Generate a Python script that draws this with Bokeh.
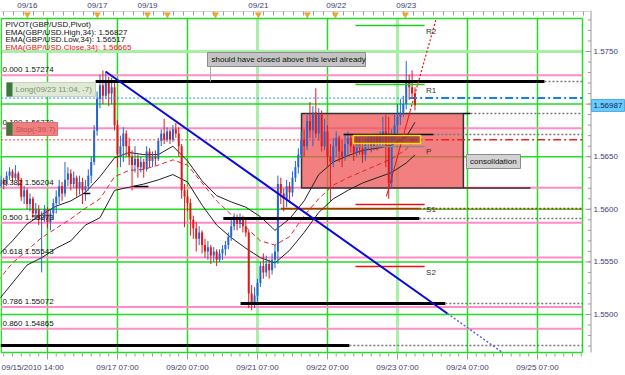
from bokeh.plotting import figure
from bokeh.models import Range1d
from bokeh.embed import file_html
from bokeh.resources import INLINE
from bokeh.core.properties import value

FONT = "Liberation Sans"

# ---------------- data (hourly GBP/USD bars, index 0 = 09/15 14:00) ----------------
first_open = 1.5625
bar_close = [
    1.5622, 1.5628, 1.5624, 1.5632, 1.5636, 1.5630, 1.5634, 1.5628, 1.5612, 1.5618,
    1.5605, 1.5610, 1.5596, 1.5600, 1.5590, 1.5592, 1.5600, 1.5588, 1.5596, 1.5606,
    1.5612, 1.5622, 1.5615, 1.5628, 1.5634, 1.5624, 1.5630, 1.5620, 1.5626, 1.5618,
    1.5622, 1.5632, 1.5645, 1.5675, 1.5705, 1.5718, 1.5708, 1.5722, 1.5710, 1.5716,
    1.5680, 1.5652, 1.5660, 1.5672, 1.5660, 1.5650, 1.5642, 1.5648, 1.5640, 1.5645,
    1.5638, 1.5655, 1.5646, 1.5650, 1.5648, 1.5665, 1.5672, 1.5666, 1.5674, 1.5666,
    1.5676, 1.5672, 1.5660, 1.5618, 1.5612, 1.5606, 1.5590, 1.5582, 1.5572, 1.5578,
    1.5566, 1.5560, 1.5564, 1.5556, 1.5560, 1.5552, 1.5558, 1.5562, 1.5566, 1.5574,
    1.5584, 1.5590, 1.5586, 1.5592, 1.5584, 1.5578, 1.5520, 1.5512, 1.5518, 1.5530,
    1.5546, 1.5540, 1.5548, 1.5542, 1.5552, 1.5560, 1.5624, 1.5615, 1.5610, 1.5622,
    1.5616, 1.5630, 1.5640, 1.5652, 1.5666, 1.5660, 1.5684, 1.5675, 1.5692, 1.5672,
    1.5690, 1.5660, 1.5674, 1.5650, 1.5645, 1.5660, 1.5668, 1.5655, 1.5650, 1.5662,
    1.5668, 1.5660, 1.5654, 1.5664, 1.5658, 1.5652, 1.5662, 1.5666, 1.5660, 1.5668,
    1.5662, 1.5670, 1.5674, 1.5660, 1.5625, 1.5670, 1.5680, 1.5688, 1.5692, 1.5700,
    1.5722, 1.5716, 1.5710, 1.5699]
bar_high = [
    1.5630, 1.5632, 1.5630, 1.5636, 1.5640, 1.5638, 1.5642, 1.5636, 1.5630, 1.5622,
    1.5620, 1.5615, 1.5612, 1.5606, 1.5604, 1.5598, 1.5604, 1.5602, 1.5600, 1.5610,
    1.5618, 1.5628, 1.5626, 1.5645, 1.5640, 1.5638, 1.5636, 1.5632, 1.5632, 1.5630,
    1.5628, 1.5638, 1.5650, 1.5680, 1.5712, 1.5728, 1.5732, 1.5730, 1.5726, 1.5725,
    1.5720, 1.5685, 1.5670, 1.5678, 1.5675, 1.5668, 1.5656, 1.5660, 1.5652, 1.5650,
    1.5648, 1.5660, 1.5658, 1.5655, 1.5656, 1.5668, 1.5676, 1.5686, 1.5678, 1.5676,
    1.5680, 1.5682, 1.5678, 1.5662, 1.5624, 1.5618, 1.5610, 1.5594, 1.5588, 1.5584,
    1.5580, 1.5572, 1.5570, 1.5566, 1.5564, 1.5562, 1.5562, 1.5566, 1.5570, 1.5578,
    1.5590, 1.5596, 1.5595, 1.5596, 1.5594, 1.5590, 1.5580, 1.5528, 1.5526, 1.5534,
    1.5550, 1.5558, 1.5556, 1.5552, 1.5558, 1.5566, 1.5632, 1.5630, 1.5620, 1.5628,
    1.5626, 1.5636, 1.5646, 1.5658, 1.5674, 1.5676, 1.5690, 1.5702, 1.5698, 1.5715,
    1.5696, 1.5694, 1.5686, 1.5680, 1.5662, 1.5668, 1.5674, 1.5670, 1.5666, 1.5672,
    1.5674, 1.5672, 1.5668, 1.5670, 1.5668, 1.5664, 1.5668, 1.5670, 1.5670, 1.5672,
    1.5672, 1.5674, 1.5688, 1.5690, 1.5688, 1.5676, 1.5690, 1.5700, 1.5705, 1.5708,
    1.5741, 1.5728, 1.5732, 1.5716]
bar_low = [
    1.5618, 1.5620, 1.5619, 1.5622, 1.5628, 1.5626, 1.5628, 1.5622, 1.5608, 1.5605,
    1.5600, 1.5598, 1.5592, 1.5590, 1.5585, 1.5540, 1.5588, 1.5582, 1.5580, 1.5590,
    1.5596, 1.5605, 1.5608, 1.5612, 1.5622, 1.5618, 1.5620, 1.5612, 1.5614, 1.5605,
    1.5608, 1.5618, 1.5625, 1.5642, 1.5670, 1.5696, 1.5700, 1.5705, 1.5698, 1.5700,
    1.5675, 1.5640, 1.5640, 1.5645, 1.5650, 1.5642, 1.5618, 1.5635, 1.5630, 1.5635,
    1.5630, 1.5636, 1.5640, 1.5640, 1.5642, 1.5646, 1.5660, 1.5662, 1.5664, 1.5662,
    1.5664, 1.5668, 1.5650, 1.5610, 1.5583, 1.5598, 1.5575, 1.5572, 1.5560, 1.5566,
    1.5558, 1.5554, 1.5552, 1.5548, 1.5550, 1.5546, 1.5550, 1.5552, 1.5556, 1.5562,
    1.5570, 1.5580, 1.5580, 1.5582, 1.5578, 1.5574, 1.5506, 1.5504, 1.5506, 1.5512,
    1.5526, 1.5534, 1.5536, 1.5534, 1.5538, 1.5544, 1.5548, 1.5605, 1.5598, 1.5602,
    1.5606, 1.5612, 1.5626, 1.5634, 1.5648, 1.5650, 1.5656, 1.5668, 1.5660, 1.5668,
    1.5665, 1.5655, 1.5656, 1.5640, 1.5608, 1.5640, 1.5650, 1.5645, 1.5640, 1.5646,
    1.5652, 1.5654, 1.5646, 1.5650, 1.5652, 1.5644, 1.5646, 1.5656, 1.5654, 1.5656,
    1.5656, 1.5658, 1.5660, 1.5640, 1.5610, 1.5620, 1.5665, 1.5672, 1.5680, 1.5688,
    1.5695, 1.5704, 1.5705, 1.5694]

ema_bar = [0, 5, 10, 15, 20, 25, 30, 35, 40, 45, 50, 55, 60, 65, 70, 75, 80, 85, 90, 95,
           100, 105, 110, 115, 120, 125, 130, 135, 140, 143]
ema_high = [1.5556, 1.5570, 1.5586, 1.5595, 1.5603, 1.5608, 1.5616, 1.5631, 1.5649, 1.5654,
            1.5652, 1.5652, 1.5660, 1.5646, 1.5627, 1.5613, 1.5607, 1.5602, 1.5593, 1.5580,
            1.5591, 1.5608, 1.5633, 1.5645, 1.5651, 1.5656, 1.5658, 1.5661, 1.5669, 1.56827]
ema_low = [1.5513, 1.5530, 1.5547, 1.5554, 1.5563, 1.5570, 1.5585, 1.5592, 1.5618, 1.5621,
           1.5624, 1.5628, 1.5633, 1.5626, 1.5604, 1.5585, 1.5573, 1.5563, 1.5554, 1.5549,
           1.5561, 1.5578, 1.5597, 1.5610, 1.5618, 1.5625, 1.5630, 1.5635, 1.5644, 1.56517]
ema_close = [1.5532, 1.5549, 1.5561, 1.5573, 1.5582, 1.5591, 1.5601, 1.5610, 1.5631, 1.5637,
             1.5638, 1.5642, 1.5647, 1.5642, 1.5625, 1.5608, 1.5595, 1.5583, 1.5570, 1.5566,
             1.5574, 1.5594, 1.5610, 1.5623, 1.5630, 1.5636, 1.5642, 1.5648, 1.5657, 1.56665]

fib_ratio = ["0.000", "0.180", "0.382", "0.500", "0.618", "0.786", "0.860"]
fib_price = [1.57274, 1.56770, 1.56204, 1.55873, 1.55543, 1.55072, 1.54865]

pivot_name = ["R2", "R1", "P", "S1", "S2"]
pivot_price = [1.57747, 1.57186, 1.56597, 1.56046, 1.55456]

day_tick_bar = [17, 41, 65, 89, 113, 137, 161, 185]
day_tick_label = ["", "09/17 07:00", "09/20 07:00", "09/21 07:00", "09/22 07:00",
                  "09/23 07:00", "09/24 07:00", "09/25 07:00"]
first_time_label = "09/15/2010 14:00"

top_tick_bar = [10.1, 34.1, 51.3, 89.3, 116.0, 140.0]
top_tick_label = ["09/16", "09/17", "09/19", "09/21", "09/22", "09/23"]
event_bar = [10.1, 34.1, 51.3, 58.1, 74.6, 89.3, 106.1, 115.7, 139.7]

price_ticks = [1.5500, 1.5550, 1.5600, 1.5650, 1.5700, 1.5750]
last_price = 1.56987
long_entry = 1.57057
stop_price = 1.56660

legend_lines = ["PIVOT(GBP/USD,Pivot)", "EMA(GBP/USD.High,34): 1.56827",
                "EMA(GBP/USD.Low,34): 1.56517", "EMA(GBP/USD.Close,34): 1.56665"]

# drawn horizontal levels: price, start bar, end bar
hline_price = [1.57215, 1.55913, 1.55105, 1.54705, 1.56711, 1.56911]
hline_start = [33.5, 77.3, 83.2, 0.9, 118.5, 159.6]
hline_end = [187.4, 144.5, 153.4, 120.5, 149.3, 162.0]
hline_width = [3, 3, 3, 3, 1.5, 1.5]

trend_bar = [36.9, 154.1, 173.0]
trend_price = [1.57310, 1.55010, 1.54639]
rtrend_bar = [133.2, 141.4, 150.3]
rtrend_price = [1.56122, 1.56939, 1.57814]

# ---------------- layout helpers (screen pixel -> data) ----------------
def bx(px):
    return (px + 2.6) * 24.0 / 70.0


def py(y):
    return 1.5750 - (y - 51.0) / 10520.0


XL, XR, XAX = bx(0.7), bx(582), bx(590.5)
YT, YB = py(18), py(352)

p = figure(width=625, height=375, output_backend="svg", toolbar_location=None,
           x_range=Range1d(bx(0), bx(625)), y_range=Range1d(py(375), py(0)),
           x_axis_location=None, y_axis_location=None,
           min_border=0, min_border_left=0, min_border_right=0,
           min_border_top=0, min_border_bottom=0,
           background_fill_color="white", border_fill_color="white")
p.outline_line_color = None
p.xgrid.visible = False
p.ygrid.visible = False

GREEN = "#22dd22"
LGREEN = "#a8f0a8"
AXC = "#3c3c78"
TICKC = "#9a9a9a"

# ---- grid (green) ----
vg = [t for t in day_tick_bar if t not in (89, 137)]
p.segment(x0=vg, x1=vg, y0=[YB] * len(vg), y1=[YT] * len(vg), line_color=GREEN, line_width=1.5)
p.segment(x0=[89, 137], x1=[89, 137], y0=[YB] * 2, y1=[YT] * 2, line_color=LGREEN, line_width=3)
hg = price_ticks[:-1]
p.segment(x0=[XL] * len(hg), x1=[XR] * len(hg), y0=hg, y1=hg, line_color=GREEN, line_width=1.5)
p.segment(x0=[XL], x1=[XR], y0=[price_ticks[-1]], y1=[price_ticks[-1]], line_color=LGREEN, line_width=3)
# frame border
p.segment(x0=[XL, XL, XL, XR], x1=[XR, XR, XL, XR], y0=[YT, YB, YB, YB], y1=[YT, YB, YT, YT],
          line_color=GREEN, line_width=1.5)

# ---- right price axis ----
p.segment(x0=[XAX], x1=[XAX], y0=[YB], y1=[py(10)], line_color=TICKC, line_width=1)
minor_p = [round(1.547 + 0.001 * k, 3) for k in range(32)]
p.segment(x0=[bx(587.5)] * len(minor_p), x1=[XAX] * len(minor_p), y0=minor_p, y1=minor_p,
          line_color=TICKC, line_width=1)
p.segment(x0=[bx(585)] * len(price_ticks), x1=[XAX] * len(price_ticks), y0=price_ticks,
          y1=price_ticks, line_color=TICKC, line_width=1)
shown = [t for t in price_ticks if abs(t - last_price) > 0.0005]
p.text(x=[bx(593)] * len(shown), y=shown, text=[f"{t:.4f}" for t in shown],
       text_font=value(FONT), text_font_size="8px", text_color=AXC, text_baseline="middle")

# ---- bottom time axis ----
minor_b = list(range(2, 203, 3))
p.segment(x0=minor_b, x1=minor_b, y0=[py(353)] * len(minor_b), y1=[py(356)] * len(minor_b),
          line_color=TICKC, line_width=1)
p.segment(x0=day_tick_bar, x1=day_tick_bar, y0=[py(353)] * len(day_tick_bar),
          y1=[py(359)] * len(day_tick_bar), line_color=TICKC, line_width=1)
p.text(x=day_tick_bar[1:], y=[py(367)] * (len(day_tick_bar) - 1), text=day_tick_label[1:],
       text_font=value(FONT), text_font_size="8px", text_color=AXC,
       text_align="center", text_baseline="middle")
p.text(x=[bx(1)], y=[py(367)], text=[first_time_label], text_font=value(FONT),
       text_font_size="8px", text_color=AXC, text_baseline="middle")

# ---- top date strip ----
p.segment(x0=[XL], x1=[XAX], y0=[py(11)], y1=[py(11)], line_color="#d4d4d4", line_width=1)
minor_t = [bx(px) for px in range(3, 590, 10)]
p.segment(x0=minor_t, x1=minor_t, y0=[py(11)] * len(minor_t), y1=[py(15)] * len(minor_t),
          line_color=TICKC, line_width=1)
p.text(x=top_tick_bar, y=[py(5)] * len(top_tick_bar), text=top_tick_label,
       text_font=value(FONT), text_font_size="8px", text_color=AXC,
       text_align="center", text_baseline="middle")
p.scatter(x=event_bar, y=[py(14)] * len(event_bar), marker="inverted_triangle", size=6,
          fill_color="#f7a630", line_color="#e8951a", line_width=0.5)

# ---- fibonacci levels ----
p.segment(x0=[XL] * len(fib_price), x1=[XR] * len(fib_price), y0=fib_price, y1=fib_price,
          line_color="#ff8cc6", line_width=2)

# ---- consolidation rectangle ----
p.quad(left=[104.1], right=[159.6], top=[1.56911], bottom=[1.56202],
       fill_color="#ee5555", fill_alpha=0.75, line_color="#333333", line_width=1.5)
p.segment(x0=[159.6], x1=[182.6], y0=[1.56202], y1=[1.56202], line_color="#552222", line_width=1.5)

# ---- EMAs ----
p.line(ema_bar, ema_high, line_color="#222222", line_width=1)
p.line(ema_bar, ema_low, line_color="#222222", line_width=1)
p.line(ema_bar, ema_close, line_color="#ee2222", line_width=1, line_dash="5 3")

# ---- candles ----
n = len(bar_close)
opens = [first_open] + bar_close[:-1]
cols = ["#2466d0" if c >= o else "#e01818" for o, c in zip(opens, bar_close)]
src = dict(x=list(range(n)), h=bar_high, l=bar_low, col=cols,
           top=[max(o, c) for o, c in zip(opens, bar_close)],
           bot=[min(o, c) for o, c in zip(opens, bar_close)])
p.segment(x0="x", x1="x", y0="l", y1="h", line_color="col", line_width=1, source=src)
p.vbar(x="x", width=0.68, top="top", bottom="bot", fill_color="col", line_color=None, source=src)

# ---- drawn black levels with dotted extension ----
for pr, s, e, w in zip(hline_price, hline_start, hline_end, hline_width):
    p.line([s, e], [pr, pr], line_color="black", line_width=w)
    p.line([e, XR], [pr, pr], line_color="#777777", line_width=1.5, line_dash="2 2")
p.line([46.5, 51.6], [1.56217, 1.56217], line_color="black", line_width=1.5)
p.line([29.3, 31.7], [1.56150, 1.56150], line_color="black", line_width=1.5)

# red S1 extension line
p.line([97, 144.5], [1.56008, 1.56008], line_color="#ee1111", line_width=1.5)
p.line([144.5, XR], [1.56008, 1.56008], line_color="#ee1111", line_width=1.5, line_dash="2 2")

# long / stop lines
p.line([XL, 141], [long_entry, long_entry], line_color="#2a8cf0", line_width=1, line_dash="2 2")
p.line([141, XR], [long_entry, long_entry], line_color="#1a7fe8", line_width=2, line_dash="8 3 2 3")
p.line([XL, 141], [stop_price, stop_price], line_color="#ff3333", line_width=1, line_dash="2 2")
p.line([141, XR], [stop_price, stop_price], line_color="#ee2020", line_width=1.5, line_dash="8 3 2 3")

# pivot segments
piv_col = ["#22cc22", "#22cc22", "#888888", "#ee1111", "#ee1111"]
p.segment(x0=[122.6] * 5, x1=[146.3] * 5, y0=pivot_price, y1=pivot_price,
          line_color=piv_col, line_width=1.5)
p.text(x=[146.8] * 5, y=pivot_price, text=pivot_name, text_font=value(FONT),
       text_font_size="8px", text_color="#333333", text_baseline="top", y_offset=1)

# trend lines
p.line(trend_bar[:2], trend_price[:2], line_color="#0a0ae0", line_width=2)
p.line(trend_bar[1:], trend_price[1:], line_color="#6060f0", line_width=1.5, line_dash="2 2")
p.line(rtrend_bar[:2], rtrend_price[:2], line_color="#ee1111", line_width=1)
p.line(rtrend_bar[1:], rtrend_price[1:], line_color="#ee1111", line_width=1.2, line_dash="2 2")

# yellow order box
p.quad(left=[121.9], right=[144.9], top=[1.56702], bottom=[1.56625],
       fill_color="#9a3a3a", fill_alpha=0.8, line_color="#ffe000", line_width=1.5)

# annotation boxes
p.quad(left=[bx(207)], right=[bx(365)], top=[py(52)], bottom=[py(66)],
       fill_color="#c4c4c4", line_color="#8c8c8c", line_width=1)
p.text(x=[bx(211)], y=[py(59)], text=["should have closed above this level already"],
       text_font=value(FONT), text_font_size="8px", text_color="#111111", text_baseline="middle")
p.line([bx(210), bx(210)], [py(66), py(81)], line_color="#aaaaaa", line_width=1)

p.quad(left=[bx(466)], right=[bx(520)], top=[py(154)], bottom=[py(168)],
       fill_color="#d2d2d2", line_color="#8c8c8c", line_width=1)
p.text(x=[bx(469.5)], y=[py(161)], text=["consolidation"], text_font=value(FONT),
       text_font_size="8px", text_color="#111111", text_baseline="middle")

# fib labels
p.text(x=[bx(2)] * len(fib_price), y=fib_price,
       text=[f"{r} {v:.5f}" for r, v in zip(fib_ratio, fib_price)],
       text_font=value(FONT), text_font_size="8px", text_color="#111111",
       text_baseline="bottom", y_offset=-1)

# long / stop labels
p.quad(left=[bx(6)], right=[bx(95)], top=[py(82)], bottom=[py(96)],
       fill_color="#dfe9d6", line_color="#c4d4b8", line_width=1)
p.quad(left=[bx(6)], right=[bx(12)], top=[py(82)], bottom=[py(96)],
       fill_color="#3a7a3a", line_color=None)
p.text(x=[bx(15)], y=[py(89)], text=["Long(09/23 11:04, -7)"], text_font=value(FONT),
       text_font_size="8px", text_color="#7a9470", text_baseline="middle")
p.quad(left=[bx(6)], right=[bx(57)], top=[py(122)], bottom=[py(135)],
       fill_color="#f08080", line_color="#e07070", line_width=1)
p.quad(left=[bx(6)], right=[bx(12)], top=[py(122)], bottom=[py(135)],
       fill_color="#3a7a3a", line_color=None)
p.text(x=[bx(15)], y=[py(128.5)], text=["Stop(-39.7)"], text_font=value(FONT),
       text_font_size="8px", text_color="#c05050", text_baseline="middle")

# legend texts
leg_y = [py(24), py(31.5), py(39), py(46.5)]
p.text(x=[bx(5)] * 4, y=leg_y, text=legend_lines, text_font=value(FONT), text_font_size="8px",
       text_color=["#111111", "#111111", "#111111", "#ee1111"], text_baseline="middle")

# current price flag
p.quad(left=[bx(591)], right=[bx(624)], top=[last_price + 6 / 10520], bottom=[last_price - 6 / 10520],
       fill_color="#66ccff", line_color="#55aadd", line_width=1)
p.text(x=[bx(593)], y=[last_price], text=[f"{last_price:.5f}"], text_font=value(FONT),
       text_font_size="8px", text_color="#1a1a50", text_baseline="middle")

open("out.html", "w").write(file_html(p, INLINE))
